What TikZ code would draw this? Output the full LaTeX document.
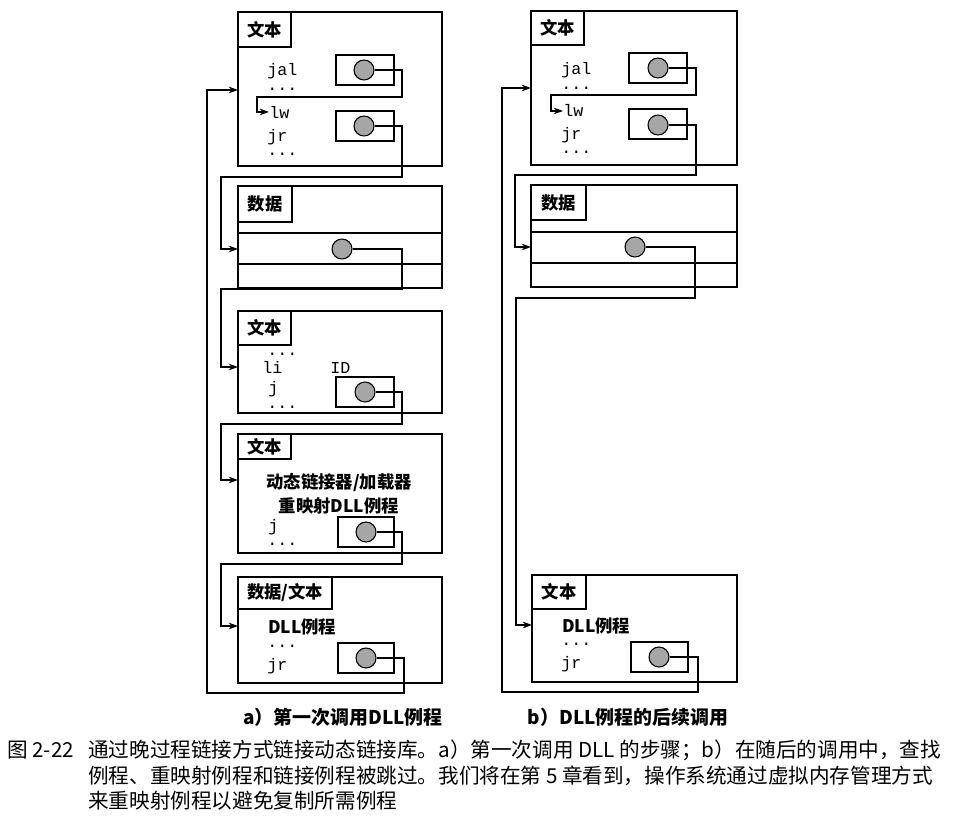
\documentclass[tikz,border=0pt]{standalone}
\usepackage{fontspec}
\setmonofont{Liberation Mono}
\newfontfamily\cjk{Noto Sans CJK SC}
\usetikzlibrary{arrows.meta,fit}
\begin{document}
\begin{tikzpicture}[x=0.75pt,y=-0.75pt,
  seg/.style={draw, line width=0.9pt, inner sep=0pt},
  labt/.style={inner sep=0pt, font=\cjk\bfseries\fontsize{13}{15}\selectfont},
  code/.style={font=\ttfamily\fontsize{12.5}{13}\selectfont, inner sep=0pt, anchor=base west},
  cjt/.style={font=\cjk\bfseries\fontsize{13}{14}\selectfont, inner sep=0pt},
  dot/.style={circle, draw, fill=gray!70, minimum size=15pt, inner sep=0pt, line width=0.8pt},
  wire/.style={line width=0.9pt},
  arr/.style={wire, -{Stealth[length=7pt,width=5pt]}},
  figcap/.style={font=\cjk\fontsize{15.45}{18}\selectfont, inner sep=0pt, anchor=west},
  subcap/.style={font=\cjk\bfseries\fontsize{14.2}{16}\selectfont, inner sep=0pt}
]
\useasboundingbox (0,0) rectangle (969,838);
\fill[white] (0,0) rectangle (969,838);

% ===================== left column =====================
% text segment 1
\node[seg, fit={(238,12)(442,166)}] (t1) {};
\node[seg, fit={(238,12)(291,47)}] (l1) {};
\node[labt] (l1t) at (l1.center) {文本};
\node[seg, fit={(336,55)(394,85)}] (b1) {};
\node[dot] (c1) at (364,70) {};
\node[seg, fit={(336,111)(394,141)}] (b2) {};
\node[dot] (c2) at (364,126) {};
\node[code] (jal1) at (267,76) {jal};
\node[code] (dd1) at (267,91) {...};
\node[code] (lw1) at (269,118) {lw};
\node[code] (jr1) at (267,142) {jr};
\node[code] (dd2) at (267,155) {...};

% data segment
\node[seg, fit={(238,186)(442,288)}] (d1) {};
\node[seg, fit={(238,186)(292,222)}] (l2) {};
\node[labt] (l2t) at (l2.center) {数据};
\draw[wire] (238,233) -- (442,233);
\draw[wire] (238,264) -- (442,264);
\node[dot] (c3) at (342,249) {};

% text segment (stub)
\node[seg, fit={(238,311)(442,413)}] (t3) {};
\node[seg, fit={(238,311)(291,345)}] (l3) {};
\node[labt] (l3t) at (l3.center) {文本};
\node[code] (dd3) at (267,355) {...};
\node[code] (li) at (262,373) {li};
\node[code] (id) at (330,373) {ID};
\node[code] (j3) at (268,393) {j};
\node[code] (dd4) at (267,408) {...};
\node[seg, fit={(336,377)(394,407)}] (b3) {};
\node[dot] (c4) at (365,392) {};

% text segment (dynamic linker)
\node[seg, fit={(238,434)(442,553)}] (t4) {};
\node[seg, fit={(238,434)(291,459)}] (l4) {};
\node[labt] (l4t) at (l4.center) {文本};
\node[cjt] (dl) at (339,483) {动态链接器/加载器};
\node[cjt] (rm) at (339,506) {重映射DLL例程};
\node[code] (j4) at (268,531) {j};
\node[code] (dd5) at (267,545) {...};
\node[seg, fit={(338,517)(394,547)}] (b4) {};
\node[dot] (c5) at (366,532) {};

% data/text segment (DLL routine)
\node[seg, fit={(238,577)(442,683)}] (t5) {};
\node[seg, fit={(238,577)(332,609)}] (l5) {};
\node[labt] (l5t) at (l5.center) {数据/文本};
\node[cjt, anchor=west] (dll1) at (268,627) {DLL例程};
\node[code] (dd6) at (267,647) {...};
\node[code] (jr5) at (267,670) {jr};
\node[seg, fit={(338,643)(394,673)}] (b5) {};
\node[dot] (c6) at (366,658) {};

% entry points
\coordinate (in1) at (238,90);
\coordinate (in2) at (238,249);
\coordinate (in3) at (238,367);
\coordinate (in4) at (238,480);
\coordinate (in5) at (238,626);

\draw[arr] (c1.east) -| (402,97) -- (257,97) |- (lw1.west);
\draw[arr] (c2.east) -| (402,177) -- (221,177) |- (in2);
\draw[arr] (c3.east) -| (402,289) -- (221,289) |- (in3);
\draw[arr] (c4.east) -| (402,424) -- (221,424) |- (in4);
\draw[arr] (c5.east) -| (402,564) -- (221,564) |- (in5);
\draw[arr] (c6.east) -| (404,693) -- (207,693) |- (in1);

% ===================== right column =====================
\node[seg, fit={(531,11)(737,165)}] (T1) {};
\node[seg, fit={(531,11)(584,45)}] (L1) {};
\node[labt] (L1t) at (L1.center) {文本};
\node[seg, fit={(629,53)(687,83)}] (B1) {};
\node[dot] (C1) at (658,68) {};
\node[seg, fit={(629,109)(687,139)}] (B2) {};
\node[dot] (C2) at (658,125) {};
\node[code] (jal2) at (561,75) {jal};
\node[code] (dd7) at (561,90) {...};
\node[code] (lw2) at (563,117) {lw};
\node[code] (jr2) at (561,140) {jr};
\node[code] (dd8) at (561,153) {...};

\node[seg, fit={(531,185)(737,287)}] (D1) {};
\node[seg, fit={(531,185)(586,220)}] (L2) {};
\node[labt] (L2t) at (L2.center) {数据};
\draw[wire] (531,232) -- (737,232);
\draw[wire] (531,263) -- (737,263);
\node[dot] (C3) at (635,247) {};

\node[seg, fit={(532,575)(737,682)}] (T2) {};
\node[seg, fit={(532,575)(586,609)}] (L3) {};
\node[labt] (L3t) at (L3.center) {文本};
\node[cjt, anchor=west] (dll2) at (562,626) {DLL例程};
\node[code] (dd9) at (561,645) {...};
\node[code] (jr3) at (561,668) {jr};
\node[seg, fit={(631,642)(688,672)}] (B3) {};
\node[dot] (C4) at (659,657) {};

\coordinate (IN1) at (531,88);
\coordinate (IN2) at (531,247);
\coordinate (IN3) at (532,625);

\draw[arr] (C1.east) -| (696,95) -- (551,95) |- (lw2.west);
\draw[arr] (C2.east) -| (696,175) -- (515,175) |- (IN2);
\draw[arr] (C3.east) -| (695,298) -- (516,298) |- (IN3);
\draw[arr] (C4.east) -| (698,692) -- (502,692) |- (IN1);

% ===================== captions =====================
\node[subcap] (capa) at (343,717) {a）第一次调用DLL例程};
\node[subcap] (capb) at (628,717) {b）DLL例程的后续调用};
\node[figcap] (fig) at (7,750) {图 2-22};
\node[figcap] (cl1) at (88,750) {通过晚过程链接方式链接动态链接库。a）第一次调用 DLL 的步骤；b）在随后的调用中，查找};
\node[figcap] (cl2) at (88,776) {例程、重映射例程和链接例程被跳过。我们将在第 5 章看到，操作系统通过虚拟内存管理方式};
\node[figcap] (cl3) at (88,801) {来重映射例程以避免复制所需例程};
\end{tikzpicture}
\end{document}
